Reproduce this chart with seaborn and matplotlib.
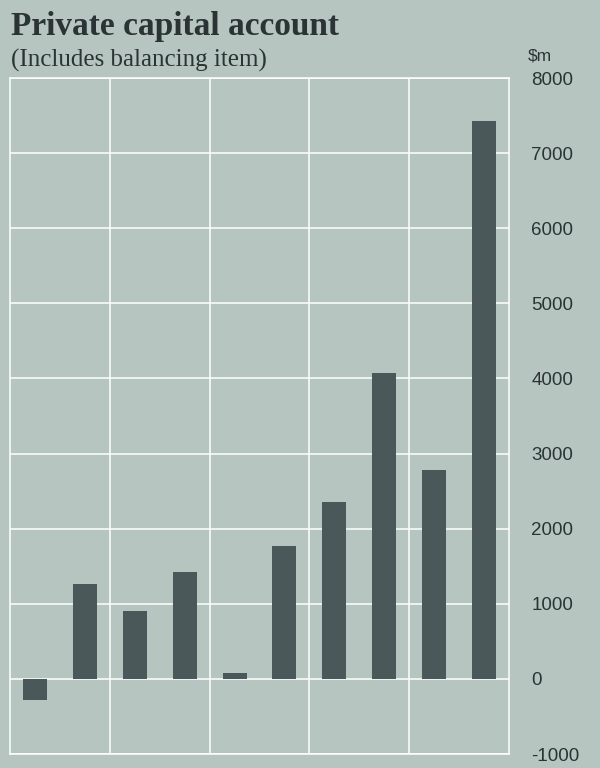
import pandas as pd
import matplotlib
matplotlib.use("Agg")
import matplotlib.pyplot as plt
import seaborn as sns

# Data (no x labels shown in the original)
periods = ["1", "2", "3", "4", "5", "6", "7", "8", "9", "10"]
values = [-280, 1260, 910, 1430, 85, 1770, 2355, 4070, 2775, 7430]
y_ticks = [-1000, 0, 1000, 2000, 3000, 4000, 5000, 6000, 7000, 8000]

bg = "#b6c5bf"
bar_col = "#4b585a"
text_col = "#2b3335"

sns.set_style("white")
plt.rcParams["font.family"] = ["Liberation Sans", "DejaVu Sans"]

df = pd.DataFrame({"period": periods, "value": values})

fig = plt.figure(figsize=(6, 7.68), dpi=100, facecolor=bg)
ax = fig.add_axes([0.0167, 0.0182, 0.8316, 0.8802])
ax.set_facecolor(bg)

sns.barplot(data=df, x="period", y="value", color=bar_col, width=0.48,
            saturation=1, linewidth=0, ax=ax, zorder=3)

ax.set_xlim(-0.5, len(periods) - 0.5)
ax.set_ylim(-1000, 8000)
ax.set_yticks(y_ticks)
ax.set_yticklabels([str(v) for v in y_ticks])
ax.yaxis.tick_right()
ax.tick_params(axis="y", length=0, pad=16, labelsize=13.5, labelcolor=text_col)
ax.set_xticks([1.5, 3.5, 5.5, 7.5])
ax.set_xticklabels([])
ax.tick_params(axis="x", length=0)
ax.grid(True, color="white", linewidth=1.1, zorder=1)
ax.set_xlabel("")
ax.set_ylabel("")
for s in ax.spines.values():
    s.set_color("white")
    s.set_linewidth(1.1)

fig.text(0.018, 0.955, "Private capital account", fontsize=24, fontweight="bold",
         family="Liberation Serif", color=text_col, va="baseline")
fig.text(0.018, 0.913, "(Includes balancing item)", fontsize=18,
         family="Liberation Serif", color=text_col, va="baseline")
fig.text(0.879, 0.921, "$m", fontsize=12.5, color=text_col, va="baseline")

fig.savefig("out.png", dpi=100, facecolor=bg)
